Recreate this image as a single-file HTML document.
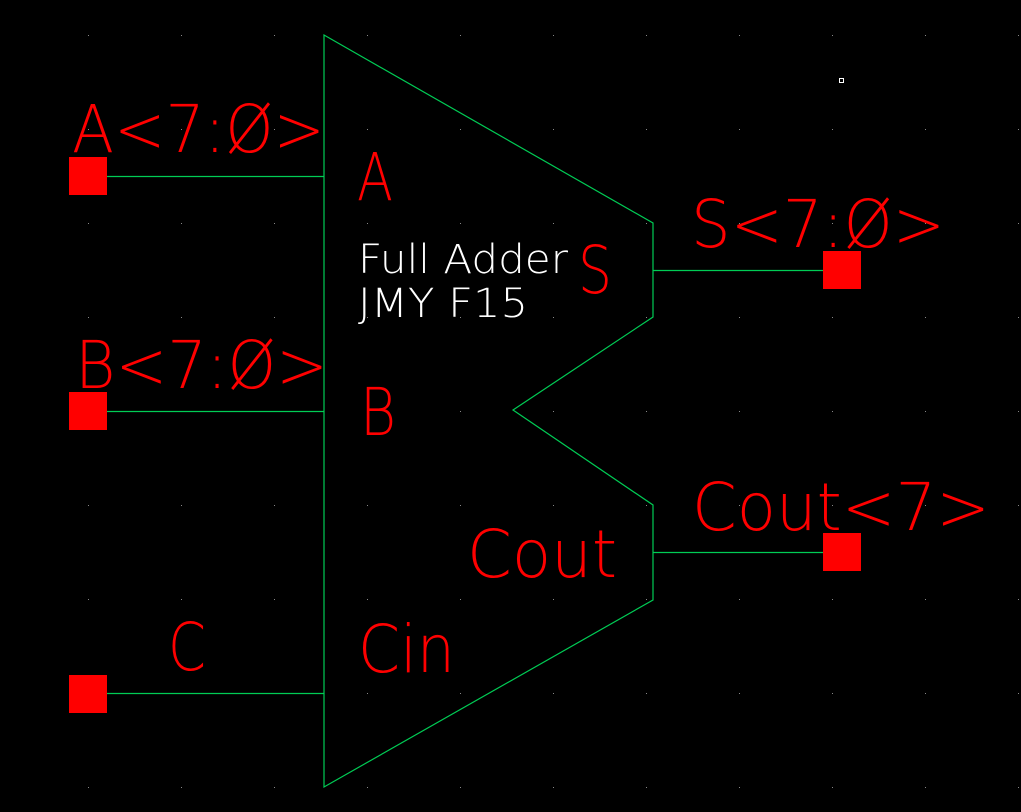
<!DOCTYPE html>
<html><head><meta charset="utf-8"><style>
html,body{margin:0;padding:0;background:#000;width:1021px;height:812px;overflow:hidden}
svg{display:block}
text{font-family:"DejaVu Sans","Liberation Sans",sans-serif;font-weight:200}
</style></head><body>
<svg width="1021" height="812" viewBox="0 0 1021 812" xmlns="http://www.w3.org/2000/svg">
<defs>
<pattern id="g" x="88" y="35" width="93" height="94" patternUnits="userSpaceOnUse">
<rect x="0" y="0" width="1" height="1" fill="#888"/>
</pattern>
</defs>
<rect width="1021" height="812" fill="#000"/>
<rect width="1021" height="812" fill="url(#g)"/>
<polygon points="324,35 653,223 653,317 513,410 653,505 653,600 324,787" fill="none" stroke="#00cc55" stroke-width="1.2"/>
<g stroke="#00cc55" stroke-width="1.2">
<line x1="107" y1="176.5" x2="324" y2="176.5"/>
<line x1="107" y1="411.5" x2="324" y2="411.5"/>
<line x1="107" y1="693.5" x2="324" y2="693.5"/>
<line x1="653" y1="270.5" x2="823" y2="270.5"/>
<line x1="653" y1="552.5" x2="823" y2="552.5"/>
</g>
<g fill="#ff0000">
<rect x="69" y="157" width="38" height="38"/>
<rect x="69" y="392" width="38" height="38"/>
<rect x="69" y="675" width="38" height="38"/>
<rect x="823" y="251" width="38" height="38"/>
<rect x="823" y="533" width="38" height="38"/>
</g>
<rect x="839.5" y="78.5" width="4" height="4" fill="none" stroke="#fff" stroke-width="1"/>
<g fill="#ff0000" font-size="66">
<text x="72" y="152" textLength="253" lengthAdjust="spacingAndGlyphs">A&lt;7:Ø&gt;</text>
<text x="75" y="388" textLength="253" lengthAdjust="spacingAndGlyphs">B&lt;7:Ø&gt;</text>
<text x="691" y="247" textLength="254" lengthAdjust="spacingAndGlyphs">S&lt;7:Ø&gt;</text>
<text x="692" y="530" textLength="298" lengthAdjust="spacingAndGlyphs">Cout&lt;7&gt;</text>
<text x="168" y="670" textLength="38" lengthAdjust="spacingAndGlyphs">C</text>
<text x="357" y="200" textLength="36" lengthAdjust="spacingAndGlyphs">A</text>
<text x="360" y="435" textLength="36" lengthAdjust="spacingAndGlyphs">B</text>
<text x="358" y="672" textLength="97" lengthAdjust="spacingAndGlyphs">Cin</text>
<text x="467" y="577" textLength="150" lengthAdjust="spacingAndGlyphs">Cout</text>
<text x="578" y="293" textLength="34" lengthAdjust="spacingAndGlyphs">S</text>
</g>
<g fill="#ffffff" font-size="40">
<text x="358" y="273" textLength="210" lengthAdjust="spacingAndGlyphs">Full Adder</text>
<text x="358" y="317" textLength="170" lengthAdjust="spacingAndGlyphs">JMY F15</text>
</g>
</svg>
</body></html>
